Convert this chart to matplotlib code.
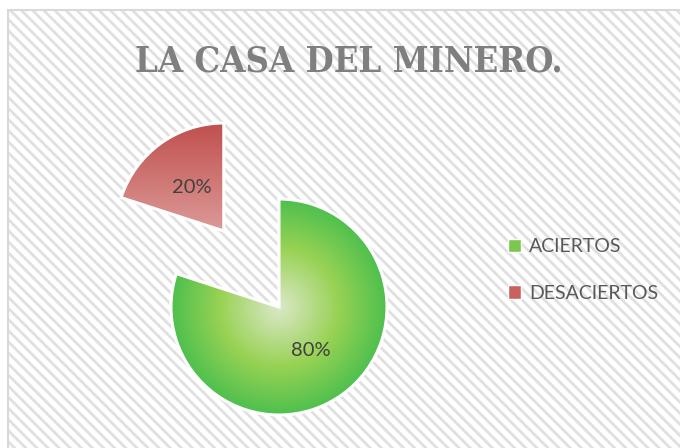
import matplotlib
matplotlib.use('Agg')
import matplotlib.pyplot as plt
import numpy as np
from matplotlib.patches import Rectangle, Patch
from matplotlib.colors import LinearSegmentedColormap

# datos
categorias = ['ACIERTOS', 'DESACIERTOS']
valores = [80, 20]
titulo = 'LA CASA DEL MINERO.'
colores_leyenda = ['#7cc84e', '#c9625f']

W, H = 680, 448
plt.rcParams['hatch.linewidth'] = 2.0
plt.rcParams['font.family'] = ['Lato', 'DejaVu Sans']

fig = plt.figure(figsize=(W / 100, H / 100), dpi=100)
fig.patch.set_facecolor('white')

# fondo rayado con marco
fondo = Rectangle((8 / W, -0.1), 1.0, 1.1 - 10 / H, transform=fig.transFigure,
                  facecolor='white', edgecolor='#e0e0e0', hatch='\\\\\\',
                  linewidth=0, zorder=-2)
fig.patches.append(fondo)
marco = Rectangle((8 / W, -0.1), 1.0, 1.1 - 10 / H, transform=fig.transFigure,
                  fill=False, edgecolor='#d9d9d9', linewidth=1.5, zorder=-1)
fig.patches.append(marco)

# ejes en pixeles
ax = fig.add_axes([0, 0, 1, 1])
ax.axis('off')
ax.patch.set_visible(False)

cx, cy, r = 279, H - 307, 108
wedges, textos, autotextos = ax.pie(
    valores, explode=[0, 0.87 * r], startangle=90, counterclock=False,
    radius=r, center=(cx, cy), autopct='%1.0f%%', pctdistance=0.5,
    wedgeprops=dict(edgecolor='white', linewidth=2.2),
    textprops=dict(fontsize=14.5, color='#404040'))

# degradado radial verde
cmap_verde = LinearSegmentedColormap.from_list(
    'verde', [(0, '#dbe8c8'), (0.55, '#98d254'), (1.0, '#4ec04e')])
n = 300
xs = np.linspace(cx - r, cx + r, n)
ys = np.linspace(cy - r, cy + r, n)
X, Y = np.meshgrid(xs, ys)
D = np.clip(np.hypot(X - cx, Y - cy) / r, 0, 1)
w0 = wedges[0]
w0.set_facecolor('none')
w0.set_zorder(3)
im = ax.imshow(D, cmap=cmap_verde, extent=(cx - r, cx + r, cy - r, cy + r),
               origin='lower', zorder=2, interpolation='bilinear', aspect='auto')
im.set_clip_path(w0)

# degradado vertical rojo
w1 = wedges[1]
verts = w1.get_path().vertices
x0, x1 = verts[:, 0].min(), verts[:, 0].max()
y0, y1 = verts[:, 1].min(), verts[:, 1].max()
cmap_rojo = LinearSegmentedColormap.from_list('rojo', ['#dc9a98', '#c0504d'])
G = np.tile(np.linspace(0, 1, 200)[:, None], (1, 10))
w1.set_facecolor('none')
w1.set_zorder(3)
im2 = ax.imshow(G, cmap=cmap_rojo, extent=(x0, x1, y0, y1), origin='lower',
                zorder=2, interpolation='bilinear', aspect='auto')
im2.set_clip_path(w1)
ax.set_xlim(0, W)
ax.set_ylim(0, H)
ax.set_aspect('auto')

for t in autotextos:
    t.set_zorder(5)

# titulo
fig.text(348.5 / W, 1 - 72 / H, titulo, ha='center', va='baseline',
         fontsize=26, fontweight='bold', color='#7f7f7f',
         family='DejaVu Serif', fontstretch='condensed')

# leyenda
manejadores = [Patch(facecolor=c, edgecolor='white') for c in colores_leyenda]
ax.legend(manejadores, categorias, loc='center left',
          bbox_to_anchor=(490 / W, 1 - 270 / H), frameon=False,
          fontsize=14, labelcolor='#595959', handlelength=0.7,
          handleheight=0.7, handletextpad=0.4, labelspacing=1.5)

fig.savefig('out.png', dpi=100, facecolor='white')
